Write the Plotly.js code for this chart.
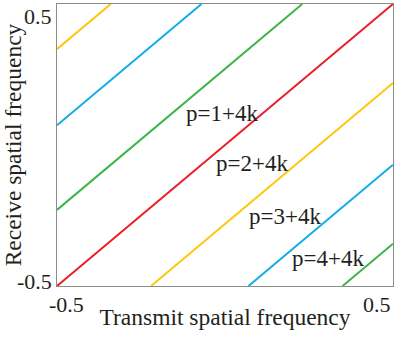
<!DOCTYPE html>
<html>
<head>
<meta charset="utf-8">
<script src="https://cdn.plot.ly/plotly-3.0.1.min.js"></script>
<style>
  html, body { margin: 0; padding: 0; background: #fff; }
  #chart { width: 394px; height: 341px; }
</style>
</head>
<body>
<div id="chart"></div>
<script>
// ---- data ----
const axisRange = [-0.5, 0.5];
const lineOffsets = [0.84, 0.57, 0.27, 0, -0.28, -0.57, -0.85];   // y = x + offset
const lineColors  = ['#FDC70C', '#12ADE6', '#3DB54A', '#ED1C24', '#FDC70C', '#12ADE6', '#3DB54A'];
const labelTexts  = ['p=1+4k', 'p=2+4k', 'p=3+4k', 'p=4+4k'];
const labelX      = [-0.010, 0.079, 0.180, 0.308];
const labelY      = [0.113, -0.066, -0.255, -0.404];
const tickVals    = [-0.5, 0.5];
const tickText    = ['-0.5', '0.5'];
const xTitle = 'Transmit spatial frequency';
const yTitle = 'Receive spatial frequency';

const FONT = 'Liberation Serif, Times New Roman, serif';
const TXT = '#231F20';

const traces = lineOffsets.map((c, i) => {
  const x0 = Math.max(axisRange[0], axisRange[0] - c);
  const x1 = Math.min(axisRange[1], axisRange[1] - c);
  return {
    type: 'scatter', mode: 'lines',
    x: [x0, x1], y: [x0 + c, x1 + c],
    line: { color: lineColors[i], width: 2 },
    hoverinfo: 'skip', showlegend: false
  };
});

const annotations = [];
labelTexts.forEach((t, i) => {
  annotations.push({
    text: t, x: labelX[i], y: labelY[i], xref: 'x', yref: 'y',
    showarrow: false, xanchor: 'center', yanchor: 'middle',
    font: { family: FONT, size: 23, color: TXT }
  });
});
// y tick labels
annotations.push({ text: tickText[1], xref: 'paper', x: 0, yref: 'y', y: tickVals[1],
  xanchor: 'right', yanchor: 'middle', xshift: -3, yshift: -12, showarrow: false,
  font: { family: FONT, size: 22, color: TXT } });
annotations.push({ text: tickText[0], xref: 'paper', x: 0, yref: 'y', y: tickVals[0],
  xanchor: 'right', yanchor: 'middle', xshift: -3, yshift: 5, showarrow: false,
  font: { family: FONT, size: 22, color: TXT } });
// x tick labels
annotations.push({ text: tickText[0], xref: 'x', x: tickVals[0], yref: 'paper', y: 0,
  xanchor: 'center', yanchor: 'middle', xshift: 9.5, yshift: -18, showarrow: false,
  font: { family: FONT, size: 22, color: TXT } });
annotations.push({ text: tickText[1], xref: 'x', x: tickVals[1], yref: 'paper', y: 0,
  xanchor: 'center', yanchor: 'middle', xshift: -16.5, yshift: -18, showarrow: false,
  font: { family: FONT, size: 22, color: TXT } });

const axisCommon = {
  range: axisRange, showgrid: false, zeroline: false,
  showline: true, mirror: true, linecolor: '#8C8C8C', linewidth: 1,
  ticks: '', showticklabels: false, fixedrange: true
};

const layout = {
  width: 394, height: 341,
  margin: { l: 57, r: 1, t: 4, b: 55 },
  paper_bgcolor: '#ffffff', plot_bgcolor: '#ffffff',
  xaxis: Object.assign({}, axisCommon, {
    title: { text: xTitle, standoff: 22, font: { family: FONT, size: 23.5, color: TXT } }
  }),
  yaxis: Object.assign({}, axisCommon, {
    title: { text: yTitle, standoff: 31, font: { family: FONT, size: 23.5, color: TXT } }
  }),
  annotations: annotations,
  showlegend: false
};

Plotly.newPlot('chart', traces, layout, { displayModeBar: false, staticPlot: true });
</script>
</body>
</html>
